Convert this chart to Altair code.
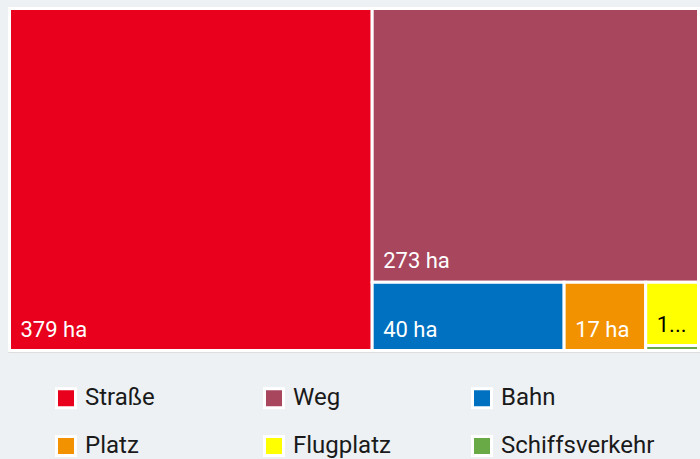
import altair as alt
import pandas as pd

# ---- data ----
categories = ["Straße", "Weg", "Bahn", "Platz", "Flugplatz", "Schiffsverkehr"]
values_ha = [379, 273, 40, 17, 10.2, 0.8]
colors = ["#e8001c", "#a8465e", "#0070c0", "#f39200", "#ffff00", "#6aaa46"]

# ---- treemap layout (squarified) computed from the values ----
W, H = 692, 345
PAD = 1.5


def worst(row, side):
    s = sum(row)
    return max(max(side * side * r / (s * s), (s * s) / (side * side * r)) for r in row)


def squarify(areas, x, y, w, h):
    out = []
    items = list(areas)
    while items:
        side = min(w, h)
        row = [items[0]]
        k = 1
        while k < len(items) and worst(row + [items[k]], side) <= worst(row, side):
            row.append(items[k])
            k += 1
        s = sum(row)
        if w >= h:
            cw = s / h
            yy = y
            for a in row:
                rh = a / cw
                out.append((x, yy, x + cw, yy + rh))
                yy += rh
            x += cw
            w -= cw
        else:
            rh = s / w
            xx = x
            for a in row:
                rw = a / rh
                out.append((xx, y, xx + rw, y + rh))
                xx += rw
            y += rh
            h -= rh
        items = items[k:]
    return out


aw, ah = W - 2 * PAD, H - 2 * PAD
total = sum(values_ha)
areas = [v / total * aw * ah for v in values_ha]
boxes = squarify(areas, PAD, PAD, aw, ah)

df = pd.DataFrame({
    "name": categories,
    "value": values_ha,
    "x0": [b[0] for b in boxes],
    "y0": [b[1] for b in boxes],
    "x1": [b[2] for b in boxes],
    "y1": [b[3] for b in boxes],
})

FONT = "Roboto"
xs = alt.Scale(domain=[0, W], nice=False, zero=False)
ys = alt.Scale(domain=[0, H], nice=False, zero=False, reverse=True)

base = alt.Chart(df)

rects = base.mark_rect(stroke="white", strokeWidth=3).encode(
    x=alt.X("x0:Q", scale=xs, axis=None),
    x2="x1:Q",
    y=alt.Y("y0:Q", scale=ys, axis=None),
    y2="y1:Q",
    color=alt.Color(
        "name:N",
        scale=alt.Scale(domain=categories, range=colors),
        legend=alt.Legend(
            title=None,
            orient="none",
            legendX=46,
            legendY=379,
            direction="horizontal",
            columns=3,
            gridAlign="all",
            columnPadding=19,
            rowPadding=16,
            padding=0,
            symbolType="square",
            symbolSize=361,
            symbolStrokeColor="white",
            symbolStrokeWidth=3,
            symbolOpacity=1,
            labelFont=FONT,
            labelFontSize=24,
            labelColor="#1a1a1a",
            labelOffset=7,
            labelLimit=400,
        ),
    ),
    tooltip=["name:N", "value:Q"],
)

labels_base = base.transform_filter("datum.y1 - datum.y0 > 20").transform_calculate(
    label="format(datum.value, '.0f') + ' ha'"
)
text_enc = dict(
    x=alt.X("x0:Q", scale=xs, axis=None),
    y=alt.Y("y1:Q", scale=ys, axis=None),
    text="label:N",
    color=alt.condition("datum.name == 'Flugplatz'", alt.value("black"), alt.value("white")),
)
big_labels = labels_base.transform_filter("datum.x1 - datum.x0 >= 60").mark_text(
    align="left", baseline="alphabetic", dx=11, dy=-14, fontSize=22, font=FONT
).encode(**text_enc)
small_labels = labels_base.transform_filter("datum.x1 - datum.x0 < 60").mark_text(
    align="left", baseline="alphabetic", dx=11, dy=-14, fontSize=22, font=FONT,
    limit=36, ellipsis="..."
).encode(**text_enc)

chart = (
    alt.layer(rects, big_labels, small_labels)
    .properties(
        width=W,
        height=H,
        background="#edf1f4",
        padding={"left": 8, "top": 7, "right": 0, "bottom": 107},
        autosize=alt.AutoSizeParams(type="none"),
    )
    .configure_view(fill="white", stroke=None)
    .configure(font=FONT)
)

chart.save("out.html", embed_options={"renderer": "svg", "actions": False})
